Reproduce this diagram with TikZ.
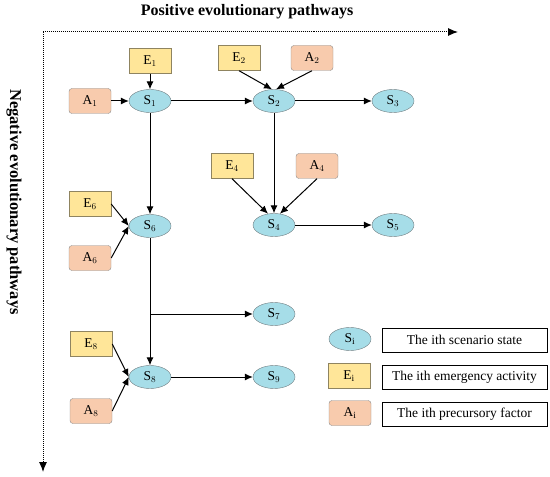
\documentclass[tikz,border=0pt]{standalone}
\usepackage{fontspec}
\setmainfont{Liberation Serif}
\usetikzlibrary{arrows.meta,shapes.geometric}
\definecolor{efill}{HTML}{FFE699}
\definecolor{edraw}{HTML}{8F8460}
\definecolor{afill}{HTML}{F8CBAD}
\definecolor{adraw}{HTML}{8C8C8C}
\definecolor{sfill}{HTML}{A6DDE8}
\definecolor{sdraw}{HTML}{6F7C80}
\tikzset{
  nfont/.style={font=\fontsize{13.5bp}{15bp}\selectfont},
  ebox/.style={draw=edraw,fill=efill,minimum width=42bp,minimum height=25bp,inner sep=0pt,nfont},
  abox/.style={draw=adraw,fill=afill,rounded corners=3bp,minimum width=42bp,minimum height=25bp,inner sep=0pt,nfont},
  snode/.style={draw=sdraw,fill=sfill,ellipse,minimum width=42bp,minimum height=23bp,inner sep=0pt,nfont},
  tbox/.style={draw=black,line width=1bp,minimum width=165bp,minimum height=24bp,inner sep=0pt,nfont},
  arr/.style={draw=black,line width=1bp,-{Latex[length=8bp,width=7bp]}},
  axis/.style={draw=black,line width=1bp,densely dotted,-{Latex[length=10bp,width=8bp]}}
}
\begin{document}
\begin{tikzpicture}[x=1bp,y=-1bp]
\useasboundingbox (0,0) rectangle (550,477);
% axes
\node (title) at (247,12) {\fontsize{16bp}{18bp}\selectfont\bfseries Positive evolutionary pathways};
\node[rotate=-90] (ntitle) at (14,202) {\fontsize{16.5bp}{18bp}\selectfont\bfseries Negative evolutionary pathways};
\coordinate (o) at (43,32);
\coordinate (xe) at (458,32);
\coordinate (ye) at (43,472);
\draw[axis] (o) -- (xe);
\draw[axis] (o) -- (ye);
% states
\node[snode] (S1) at (150,101) {S$_1$};
\node[snode] (S2) at (274,101) {S$_2$};
\node[snode] (S3) at (393,101) {S$_3$};
\node[snode] (S4) at (274,225) {S$_4$};
\node[snode] (S5) at (393,225) {S$_5$};
\node[snode] (S6) at (150,226) {S$_6$};
\node[snode] (S7) at (274,314) {S$_7$};
\node[snode] (S8) at (150,377) {S$_8$};
\node[snode] (S9) at (274,377) {S$_9$};
% emergency activities
\node[ebox] (E1) at (150,61) {E$_1$};
\node[ebox] (E2) at (239,58) {E$_2$};
\node[ebox] (E4) at (232,166) {E$_4$};
\node[ebox] (E6) at (90,204) {E$_6$};
\node[ebox] (E8) at (91,344) {E$_8$};
% precursory factors
\node[abox] (A1) at (90,101) {A$_1$};
\node[abox] (A2) at (312,58) {A$_2$};
\node[abox] (A4) at (317,166) {A$_4$};
\node[abox] (A6) at (90,258) {A$_6$};
\node[abox] (A8) at (91,411) {A$_8$};
% connectors
\draw[arr] (E1) -- (S1);
\draw[arr] (A1) -- (S1);
\draw[arr] (S1) -- (S2);
\draw[arr] (E2.south) -- ([xshift=-2bp]S2.north);
\draw[arr] (A2.south) -- ([xshift=2bp]S2.north);
\draw[arr] (S2) -- (S3);
\draw[arr] (S2) -- (S4);
\draw[arr] (E4.south) -- (S4.118);
\draw[arr] (A4.south) -- (S4.62);
\draw[arr] (S4) -- (S5);
\draw[arr] (S1) -- (S6);
\draw[arr] (E6.east) -- (S6.west);
\draw[arr] (A6.east) -- (S6.west);
\coordinate (b7) at (150,314);
\draw[arr] (S6) -- (S8);
\draw[arr] (b7) -- (S7);
\draw[arr] (E8.east) -- (S8.west);
\draw[arr] (A8.east) -- (S8.west);
\draw[arr] (S8) -- (S9);
% legend
\node[snode] (LS) at (350,339) {S$_\mathrm{i}$};
\node[ebox] (LE) at (349,376) {E$_\mathrm{i}$};
\node[abox] (LA) at (350,413) {A$_\mathrm{i}$};
\node[tbox] (TS) at (464.5,340) {The ith scenario state};
\node[tbox] (TE) at (464.5,377.5) {The ith emergency activity};
\node[tbox] (TA) at (464.5,414.5) {The ith precursory factor};
\end{tikzpicture}
\end{document}
